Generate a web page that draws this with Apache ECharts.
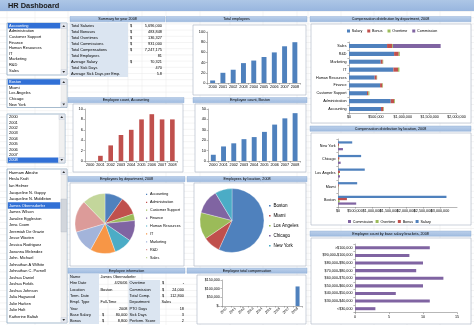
<!DOCTYPE html>
<html><head><meta charset="utf-8">
<script src="https://cdn.jsdelivr.net/npm/echarts@6/dist/echarts.min.js"></script>
<style>html,body{margin:0;padding:0;background:#fff}#c{width:474px;height:325px}</style>
</head><body><div id="c"></div>
<script>
// ---------------- DATA ----------------
const departments = ['Accounting','Administration','Customer Support','Finance','Human Resources','IT','Marketing','R&D','Sales'];
const locations = ['Boston','Miami','Los Angeles','Chicago','New York'];
const years = ['2000','2001','2002','2003','2004','2005','2006','2007','2008'];
const employeeNames = ['Harmam Abrahe','Hesla Kraft','Ian Helmer','Jacqueline N. Gappy','Jacqueline N. Middleton','James Obernsdorfer','James Wilson','Janalee Eggleston','Jena Coom','Jeremiah De Grazie','Jesse Wooten','Jessica Rodriguez','Joeanna Melendez','John. Michael','Johnathan A Wilhite','Johnathan C. Parnell','Joshua Daniel','Joshua Fields','Joshua Johnson','Julia Hagwood','Julie Harken','Julie Holt','Katherine Baltah'];

const summaryLabels = ['Total Salaries','Total Bonuses','Total Overtimes','Total Commissions','Total Compensations','Total Employees','Average Salary','Total Sick Days','Average Sick Days per Emp.'];
const summaryCurrency = [true,true,true,true,true,false,true,false,false];
const summaryValues = ['5,696,000','483,848','136,327','931,000','7,247,175','81','70,321','470','5.8'];

const totalEmployees = [5,20,26,39,44,51,60,72,80];
const accountingCount = [0,1,3,5,6,8,9,8,8];
const bostonCount = [6,14,17,21,23,28,35,41,46];

const deptSalary = [596000,776000,335000,578000,478000,826000,590000,839000,708000];
const deptBonus = [44000,63000,25000,43000,38000,87000,37000,86000,93000];
const deptOvertime = [10000,15000,20000,12000,8000,25000,10000,20000,16000];
const deptCommission = [0,0,0,0,0,0,0,0,888000];

const locSalary = [3190000,564000,787000,680000,418000];
const locBonus = [262000,20000,58000,39000,29000];
const locOvertime = [49000,10000,29000,19000,10000];
const locCommission = [535000,5000,58000,78000,146000];

const deptHeadcount = [8,8,3,9,8,11,10,14,10];
const locHeadcount = [46,7,11,10,7];

const salaryBrackets = ['<$30,000','$30,000-$40,000','$40,000-$50,000','$50,000-$60,000','$60,000-$70,000','$70,000-$80,000','$80,000-$90,000','$90,000-$100,000','>$100,000'];
const bracketCount = [3,11,6,10,13,9,10,8,11];

const employeeTotalComp = [null,null,null,null,null,null,null,null,112800];

const infoLabelsA = ['Name','Hire Date','Location','Term. Date','Empl. Type','Year','Base Salary','Bonus'];
const infoValuesA = ['James Obernsdorfer','4/26/06','Boston','','Full-Time','2008','80,000','8,800'];
const infoCurrencyA = [false,false,false,false,false,false,true,true];
const infoLabelsB = ['','Overtime','Commission','Total Comp.','Department','PTO Days','Sick Days','Perform. Score'];
const infoValuesB = ['','-','24,000','112,800','Sales','18','3','2'];
const infoCurrencyB = [false,true,true,true,false,false,false,false];

// ---------------- STYLE ----------------
function hasFont(n){const c=document.createElement('canvas').getContext('2d');const t='abcdefghijklmnopqrstuvwxyzABCDEF0123456789';c.font='40px monospace';const a=c.measureText(t).width;c.font='40px "'+n+'", monospace';return c.measureText(t).width!==a;}
const NARROW = hasFont('Liberation Sans Narrow');
const FF = NARROW ? '"Liberation Sans Narrow"' : '"Liberation Sans", Arial';
const K = NARROW ? 1 : 0.86;
const f = s => +(s*K).toFixed(2);
const BLUE='#4f81bd', RED='#c0504d', GREEN='#9bbb59', PURPLE='#8064a2';
const pieDeptColors=['#4f81bd','#c0504d','#9bbb59','#8064a2','#4bacc6','#f79646','#a3b4da','#dc9b99','#c3d69b'];
const pieLocColors=['#4f81bd','#c0504d','#9bbb59','#8064a2','#4bacc6'];
function money(v){return '$'+String(Math.round(v)).replace(/\B(?=(\d{3})+(?!\d))/g,',');}

// ---------------- GRAPHIC HELPERS ----------------
const G=[];
function rect(x,y,w,h,fill,stroke,lw,z){G.push({type:'rect',shape:{x:x,y:y,width:w,height:h},style:{fill:fill||'none',stroke:stroke||'none',lineWidth:lw||0},z:z==null?-10:z,silent:true});}
function line(x1,y1,x2,y2,stroke,lw,z){G.push({type:'line',shape:{x1:x1,y1:y1,x2:x2,y2:y2},style:{stroke:stroke,lineWidth:lw||0.5},z:z==null?-20:z,silent:true});}
function text(t,x,y,size,o){o=o||{};G.push({type:'text',x:x,y:y,style:{text:t,font:(o.bold?'bold ':'')+f(size)+'px '+FF,fill:o.color||'#000',align:o.align||'left',verticalAlign:'middle'},z:o.z==null?5:o.z,silent:true});}
function poly(pts,fill,z){G.push({type:'polygon',shape:{points:pts},style:{fill:fill},z:z==null?6:z,silent:true});}
function band(x,y,w,label){rect(x,y,w,5.3,{type:'linear',x:0,y:0,x2:0,y2:1,colorStops:[{offset:0,color:'#bcd0ea'},{offset:1,color:'#9fbbe0'}]},'#86a6d2',0.4,-8);text(label,x+w/2,y+2.8,4.3,{align:'center'});}
function frame(x,y,w,h){rect(x,y,w,h,'#fff','#aab4c2',0.6,-9);}
function listbox(x,y,w,h,items,y0,step,sel,thumb){
  rect(x,y,w,h,'#fff','#7f9db9',0.7,-7);
  items.forEach((t,i)=>{const yy=y0+i*step; if(yy>y+h-1)return;
    if(i===sel){rect(x+0.8,yy-step/2,w-7.5,step,'#3170d6',null,0,-6);}
    text(t,x+2,yy,4.6,{color:i===sel?'#fff':'#000'});});
  rect(x+w-6,y+0.5,5.5,h-1,'#f0f0f0','#d8d8d8',0.3,-6);
  rect(x+w-6,y+0.5,5.5,5,'#e4e8f0','#b8c0cc',0.3,-5);
  rect(x+w-6,y+h-5.5,5.5,5,'#e4e8f0','#b8c0cc',0.3,-5);
  poly([[x+w-4.6,y+4],[x+w-3.25,y+2],[x+w-1.9,y+4]],'#333');
  poly([[x+w-4.6,y+h-4],[x+w-3.25,y+h-2],[x+w-1.9,y+h-4]],'#333');
  if(thumb){rect(x+w-6,thumb[0],5.5,thumb[1]-thumb[0],'#d2d6dc','#a8aeb8',0.3,-5);}
}

// spreadsheet gridlines
for(let yy=11.5; yy<325; yy+=6.2) line(0,yy,474,yy,'#e8e8e8',0.5);
[7,35,68,108,128,142,166,200,230,263,297,308,341,374,407,440,471].forEach(xx=>line(xx,11,xx,325,'#e8e8e8',0.5));

// title band
rect(0,0,474,11,{type:'linear',x:0,y:0,x2:0,y2:1,colorStops:[{offset:0,color:'#adc6e6'},{offset:1,color:'#98b6df'}]},null,0,-8);
text('HR Dashboard',8,5.8,8.6,{bold:true,color:'#1a1a1a'});

// list boxes
listbox(7,23,60,52,departments,25.8,5.58,0);
listbox(7,79,60,28.5,locations,82,5.67,0);
listbox(7,114,58,49,years,117.3,5.35,8);
listbox(7,169,60,154,employeeNames,172.8,6.55,5,[199,232]);

// summary table
band(70,16.5,95,'Summary for year 2008');
rect(69.5,22.5,58.5,54.5,'#dbe5f1',null,0,-8);
summaryLabels.forEach((t,i)=>{const yy=26+i*6; text(t,71,yy,4.5);
  if(summaryCurrency[i]) text('$',130,yy,4.5);
  text(summaryValues[i],162,yy,4.5,{align:'right'});});

// section bands
band(166,16.5,141,'Total employees');
band(310,16.5,161,'Compensation distribution by department, 2008');
band(68,97.5,116,'Employee count, Accounting');
band(193,97.5,114,'Employee count, Boston');
band(310,126,161,'Compensation distribution by location, 2008');
band(68,176.5,117,'Employees by department, 2008');
band(187,176.5,120,'Employees by location, 2008');
band(310,231,161,'Employee count by base salary brackets, 2008');
band(68,268,117,'Employee information');
band(187,268,120,'Employee total compensation');

// chart frames
frame(193,25,113,70);
frame(311,24,160,99);
frame(73,104,110,68);
frame(195,104,111,68);
frame(311,133,160,92);
frame(70,183,114,83);
frame(194,183,112,83);
frame(311,238,160,86);
frame(197,275,109,49);

// employee information table
rect(69,274,30,50,'#dbe5f1',null,0,-8);
rect(128.5,280,31.5,44,'#dbe5f1',null,0,-8);
infoLabelsA.forEach((t,i)=>{const yy=277+i*6.3; text(t,70,yy,4.5);
  const v=infoValuesA[i]; const leftAl=(i===0||i===2||i===4);
  if(infoCurrencyA[i]) text('$',102,yy,4.5);
  if(v) text(v,leftAl?100.5:127.5,yy,4.5,{align:leftAl?'left':'right'});
  if(infoLabelsB[i]) text(infoLabelsB[i],129.5,yy,4.5);
  if(infoCurrencyB[i]) text('$',162,yy,4.5);
  const vb=infoValuesB[i]; if(vb) text(vb,vb==='Sales'?161.5:184,yy,4.5,{align:vb==='Sales'?'left':'right'});
});

// ---------------- AXES ----------------
const AXC='#868686';
const aLine={show:true,lineStyle:{color:AXC,width:0.6}};
const aTick={show:true,length:1.6,lineStyle:{color:AXC,width:0.6}};
const lab=(s,extra)=>Object.assign({fontSize:f(s),fontFamily:FF,color:'#000',margin:2.2},extra||{});
const noSplit={show:false};
function catX(grid,extra){return Object.assign({type:'category',gridIndex:grid,data:years,axisLine:aLine,axisTick:aTick,axisLabel:lab(4.4,{interval:0}),splitLine:noSplit},extra||{});}
function valY(grid,max,intv,extra){return Object.assign({type:'value',gridIndex:grid,min:0,max:max,interval:intv,axisLine:aLine,axisTick:aTick,axisLabel:lab(4.5),splitLine:noSplit},extra||{});}
function valX(grid,max,intv,fmt){return {type:'value',gridIndex:grid,min:0,max:max,interval:intv,axisLine:aLine,axisTick:aTick,axisLabel:lab(4.3,{formatter:fmt}),splitLine:noSplit};}
function catY(grid,data){return {type:'category',gridIndex:grid,data:data,axisLine:aLine,axisTick:aTick,axisLabel:lab(4.3,{interval:0,margin:2.5}),splitLine:noSplit};}

const legendText={fontSize:f(4.3),fontFamily:FF,color:'#000',padding:[0,0,0,-3.2]};

const option={
  animation:false,
  backgroundColor:'#fff',
  graphic:{elements:G},
  grid:[
    {left:207.5,top:32,width:92.5,height:51},
    {left:85,top:109,width:92.5,height:52},
    {left:208.2,top:109,width:92,height:52},
    {left:349,top:42,width:107.5,height:71},
    {left:338,top:139,width:119,height:68},
    {left:355,top:244,width:102,height:68.5},
    {left:222,top:280,width:80,height:26}
  ],
  xAxis:[
    catX(0),catX(1),catX(2),
    valX(3,2000000,500000,money),
    valX(4,3500000,500000,money),
    valX(5,15,5,null),
    catX(6,{axisLabel:lab(4,{interval:0,rotate:45,margin:2})})
  ],
  yAxis:[
    valY(0,100,20),valY(1,10,2),valY(2,50,10),
    catY(3,departments),catY(4,locations),catY(5,salaryBrackets),
    valY(6,150000,50000,{axisLabel:lab(4.2,{formatter:v=>v===0?'$-':money(v)})})
  ],
  legend:[
    {data:['Salary','Bonus','Overtime','Commission'],left:347,top:29,itemWidth:3,itemHeight:3,itemGap:5,icon:'rect',selectedMode:false,padding:0,textStyle:legendText},
    {data:['Commission','Overtime','Bonus','Salary'],left:348,top:219.5,itemWidth:3,itemHeight:3,itemGap:2.5,icon:'rect',selectedMode:false,padding:0,textStyle:legendText},
    {data:departments,orient:'vertical',left:144,top:191.8,itemWidth:3.2,itemHeight:3.2,itemGap:2.7,icon:'rect',selectedMode:false,padding:0,textStyle:legendText},
    {data:locations,orient:'vertical',left:267,top:203,itemWidth:3.6,itemHeight:3.6,itemGap:4.4,icon:'rect',selectedMode:false,padding:0,textStyle:Object.assign({},legendText,{fontSize:f(5.3)})}
  ],
  series:[
    {type:'bar',xAxisIndex:0,yAxisIndex:0,data:totalEmployees,barWidth:'48%',itemStyle:{color:BLUE}},
    {type:'bar',xAxisIndex:1,yAxisIndex:1,data:accountingCount,barWidth:'45%',itemStyle:{color:RED}},
    {type:'bar',xAxisIndex:2,yAxisIndex:2,data:bostonCount,barWidth:'48%',itemStyle:{color:BLUE}},
    {name:'Salary',type:'bar',stack:'dept',xAxisIndex:3,yAxisIndex:3,data:deptSalary,barWidth:'52%',itemStyle:{color:BLUE}},
    {name:'Bonus',type:'bar',stack:'dept',xAxisIndex:3,yAxisIndex:3,data:deptBonus,itemStyle:{color:RED}},
    {name:'Overtime',type:'bar',stack:'dept',xAxisIndex:3,yAxisIndex:3,data:deptOvertime,itemStyle:{color:GREEN}},
    {name:'Commission',type:'bar',stack:'dept',xAxisIndex:3,yAxisIndex:3,data:deptCommission,itemStyle:{color:PURPLE}},
    {name:'Salary',type:'bar',xAxisIndex:4,yAxisIndex:4,data:locSalary,barGap:'0%',barCategoryGap:'34%',itemStyle:{color:BLUE}},
    {name:'Bonus',type:'bar',xAxisIndex:4,yAxisIndex:4,data:locBonus,itemStyle:{color:RED}},
    {name:'Overtime',type:'bar',xAxisIndex:4,yAxisIndex:4,data:locOvertime,itemStyle:{color:GREEN}},
    {name:'Commission',type:'bar',xAxisIndex:4,yAxisIndex:4,data:locCommission,itemStyle:{color:PURPLE}},
    {type:'bar',xAxisIndex:5,yAxisIndex:5,data:bracketCount,barWidth:'40%',itemStyle:{color:PURPLE}},
    {type:'bar',xAxisIndex:6,yAxisIndex:6,data:employeeTotalComp,barWidth:'45%',itemStyle:{color:BLUE}},
    {type:'pie',center:[105,223.5],radius:30,startAngle:90,clockwise:true,label:{show:false},labelLine:{show:false},
     itemStyle:{borderColor:'#fff',borderWidth:0.3},
     data:departments.map((d,i)=>({name:d,value:deptHeadcount[i],itemStyle:{color:pieDeptColors[i]}}))},
    {type:'pie',center:[232,220.5],radius:32,startAngle:90,clockwise:true,label:{show:false},labelLine:{show:false},
     itemStyle:{borderColor:'#fff',borderWidth:0.3},
     data:locations.map((d,i)=>({name:d,value:locHeadcount[i],itemStyle:{color:pieLocColors[i]}}))}
  ]
};
const chart=echarts.init(document.getElementById('c'),null,{renderer:'canvas'});
chart.setOption(option);
</script></body></html>
